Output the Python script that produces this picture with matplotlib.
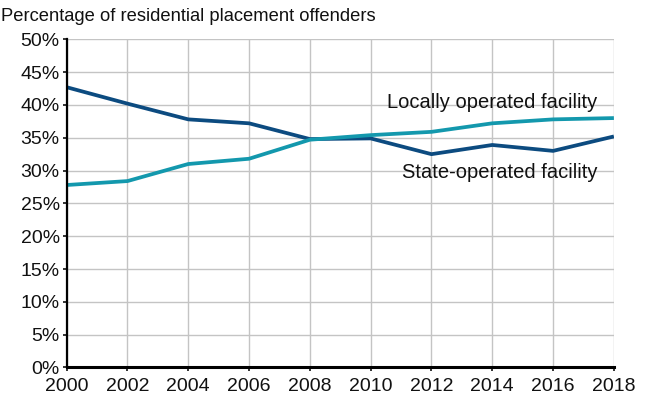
import matplotlib
matplotlib.use("Agg")
import matplotlib.pyplot as plt
from matplotlib.ticker import FuncFormatter, MultipleLocator

plt.rcParams['font.family'] = ['Liberation Sans', 'DejaVu Sans']

years = [2000, 2002, 2004, 2006, 2008, 2010, 2012, 2014, 2016, 2018]
state_operated = [42.7, 40.2, 37.8, 37.2, 34.8, 34.9, 32.5, 33.9, 33.0, 35.2]
locally_operated = [27.8, 28.4, 31.0, 31.8, 34.7, 35.4, 35.9, 37.2, 37.8, 38.0]

dark_blue = '#0c4b80'
teal = '#1398ad'

fig = plt.figure(figsize=(6.51, 3.99), dpi=100)
ax = fig.add_axes([0.1024, 0.079, 0.8406, 0.8225])

ax.plot(years, state_operated, color=dark_blue, lw=2.7, solid_capstyle='butt', zorder=3)
ax.plot(years, locally_operated, color=teal, lw=2.7, solid_capstyle='butt', zorder=3)

ax.set_xlim(2000, 2018)
ax.set_ylim(0, 50)
ax.xaxis.set_major_locator(MultipleLocator(2))
ax.yaxis.set_major_locator(MultipleLocator(5))
ax.yaxis.set_major_formatter(FuncFormatter(lambda v, p: f"{v:.0f}%"))

ax.grid(True, color='#c4c4c4', lw=1.0, zorder=0)
ax.set_axisbelow(True)
for side in ('top', 'right'):
    ax.spines[side].set_visible(False)
ax.spines['left'].set_linewidth(1.6)
ax.spines['bottom'].set_linewidth(2.2)
ax.spines['left'].set_zorder(4)
ax.spines['bottom'].set_zorder(4)

ax.tick_params(axis='both', labelsize=14, colors='#111111', length=3, width=1.2)
ax.tick_params(axis='x', pad=4.5)
ax.tick_params(axis='y', pad=2)

ax.text(2017.45, 40.3, 'Locally operated facility', ha='right', va='center',
        fontsize=14.5, color='#111111')
ax.text(2017.45, 29.65, 'State-operated facility', ha='right', va='center',
        fontsize=14.5, color='#111111')

fig.text(0.002, 0.958, 'Percentage of residential placement offenders',
         ha='left', va='center', fontsize=13.2, color='#111111')

fig.savefig('out.png', dpi=100)
